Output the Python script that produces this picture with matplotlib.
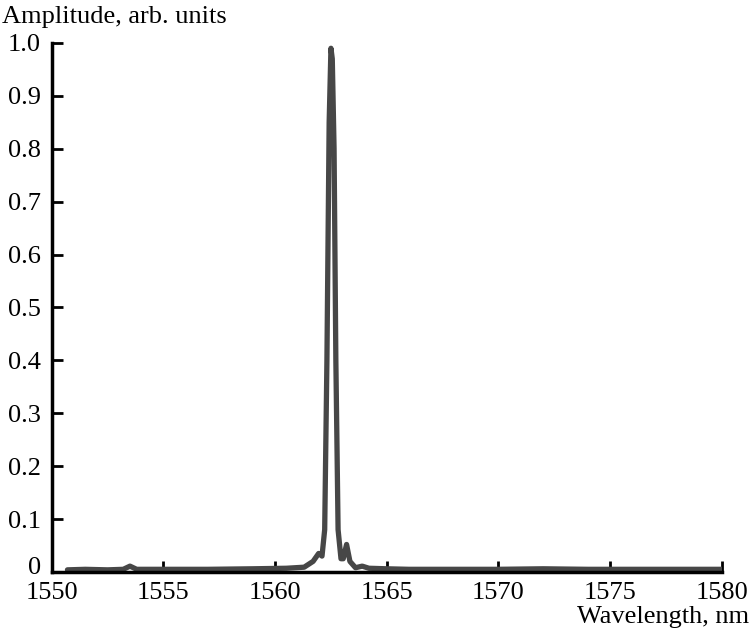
import matplotlib.pyplot as plt
import matplotlib.transforms as mtransforms

# Spectrum (wavelength in nm, amplitude in arb. units)
wavelength = [1550.7, 1551.5, 1552.5, 1553.2, 1553.5, 1553.8, 1555.0, 1557.0,
              1559.0, 1560.5, 1561.3, 1561.7, 1561.95, 1562.1, 1562.22, 1562.32,
              1562.42, 1562.5, 1562.56, 1562.64, 1562.72, 1562.82, 1562.95,
              1563.05, 1563.2, 1563.35, 1563.6, 1563.9, 1564.2, 1565.0, 1566.0,
              1568.0, 1570.0, 1572.0, 1574.0, 1576.0, 1578.0, 1580.0]
amplitude = [0.004, 0.005, 0.004, 0.005, 0.011, 0.005, 0.005, 0.005,
             0.006, 0.007, 0.009, 0.02, 0.035, 0.03, 0.08, 0.4,
             0.85, 0.99, 0.97, 0.8, 0.4, 0.08, 0.025,
             0.025, 0.052, 0.02, 0.008, 0.011, 0.007, 0.006, 0.005,
             0.005, 0.005, 0.006, 0.005, 0.005, 0.005, 0.005]

x_ticks = [1550, 1555, 1560, 1565, 1570, 1575, 1580]
y_ticks = [0, 0.1, 0.2, 0.3, 0.4, 0.5, 0.6, 0.7, 0.8, 0.9, 1.0]
y_labels = ['0', '0.1', '0.2', '0.3', '0.4', '0.5', '0.6', '0.7', '0.8', '0.9', '1.0']

plt.rcParams['font.family'] = ['Liberation Serif', 'DejaVu Serif']

fig = plt.figure(figsize=(7.51, 6.32), dpi=100)
ax = fig.add_axes([0.069, 0.095, 0.892, 0.837])

ax.plot(wavelength, amplitude, color='#474747', lw=3.8, solid_joinstyle='round',
        solid_capstyle='round')

ax.set_xlim(1550, 1580)
ax.set_ylim(0, 1.0)
ax.set_xticks(x_ticks)
ax.set_yticks(y_ticks)
ax.set_yticklabels(y_labels)
ax.tick_params(direction='in', length=8, width=2, labelsize=19)
ax.tick_params(axis='y', pad=8)
ax.tick_params(axis='x', pad=7)

# lift the "0" a bit so it sits above the 1550 label like in the original
zero_lbl = ax.get_yticklabels()[0]
zero_lbl.set_transform(zero_lbl.get_transform() +
                       mtransforms.ScaledTranslation(0, 5 / 72, fig.dpi_scale_trans))

for side in ['top', 'right']:
    ax.spines[side].set_visible(False)
for side in ['left', 'bottom']:
    ax.spines[side].set_linewidth(2.5)

fig.text(0.002, 0.99, 'Amplitude, arb. units', fontsize=19, ha='left', va='top')
fig.text(0.997, 0.024, 'Wavelength, nm', fontsize=19, ha='right', va='center')

fig.savefig('out.png', dpi=100)
